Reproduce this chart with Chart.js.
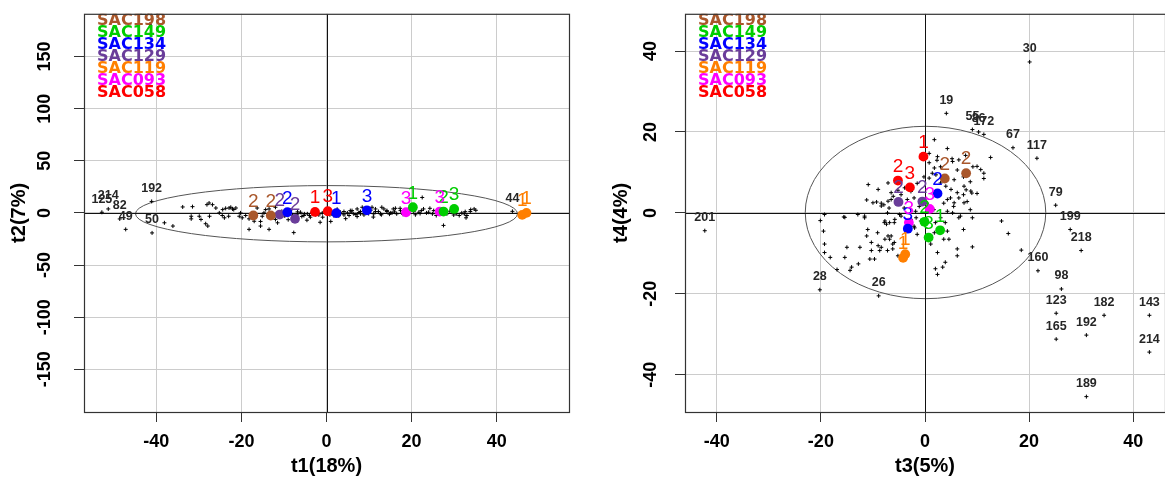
<!DOCTYPE html>
<html>
<head>
<meta charset="utf-8">
<script src="https://cdn.jsdelivr.net/npm/chart.js@4.4.0/dist/chart.umd.min.js"></script>
<style>
  html, body { margin: 0; padding: 0; background: #fff; overflow: hidden; width: 1165px; height: 482px; }
  #graficaT12 { position: absolute; left: 0; top: 0; }
  #graficaT34 { position: absolute; left: 580px; top: 0; }
</style>
</head>
<body>
<canvas id="graficaT12" width="580" height="482"></canvas>
<canvas id="graficaT34" width="590" height="482"></canvas>
<script>
// ---- datos ----
const grupos = ['SAC198', 'SAC149', 'SAC134', 'SAC129', 'SAC119', 'SAC093', 'SAC058'];

// observaciones (cruces negras), scores t1 / t2
const obsT1 = [-38.1, -36.1, -33.8, -31.8, -31.8, -31.5, -29.9, -29.5, -28.4, -28.1, -27.6, -26.8, -27.9, -27.5, -26.0, -25.2,
  -24.4, -24.0, -24.5, -23.7, -22.9, -22.1, -21.3, -23.0, -22.5, -21.8, -20.5, -20.2, -19.8, -19.0, -18.2, -18.2,
  -16.3, -15.5, -15.5, -15.1, -14.7, -14.3, -13.5, -13.5, -12.0, -12.0, -10.5, -9.8, -8.5, -7.7, -6.9, -6.1,
  -5.3, -5.2, -4.5, -4.0, -3.8, -3.4, -2.1, -1.8, -1.0, -0.9, 1.3, 1.7, 3.3, 3.3, 4.1, 4.1, 4.9, 5.3, 5.6, 6.0,
  6.4, 7.2, 7.2, 8.0, 8.0, 8.4, 8.8, 10.7, 11.1, 11.5, 11.5, 12.2, 12.7, 13.0, 13.5, 14.2, 14.2, 15.0, 15.4, 15.7,
  16.2, 16.5, 17.3, 17.4, 20.5, 22.5, 21.7, 22.3, 22.8, 23.5, 24.0, 24.3, 25.2, 25.8, 27.5, 28.1, 28.3, 30.5,
  31.2, 31.8, 32.4, 33.0, 33.8, 33.9, 34.7, -10.2, -8.0, -6.8, -5.8, -2.6, 0.8, 2.6, 2.9, 5.8, 6.9, 7.6, 9.2, 9.9,
  10.4, 12.9, 14.8, 16.0, 18.0, 19.2, 20.9, 22.0, 24.9, 26.3, 29.0, 29.9, 32.6, -17.0, -11.5, -9.0, -4.6, -1.5,
  1.0, 2.5, 4.5, 11.0, 35.1, 32.8];
const obsT2 = [-9.5, -12.6, 5.7, -3.2, -5.7, 6.0, -3.2, -6.3, -10.4, 7.9, 9.5, 7.9, -12.6, -3.2, 4.7, 0,
  3.2, -4.7, -2.5, 4.4, 4.7, 3.8, 4.7, -3.2, 5.4, 3.2, -3.2, 0, -4.7, -2.5, -15.8, -5.7,
  4.7, -12.6, -8.2, -3.2, 0, 3.2, -15.8, 3.8, -6.3, 5.4, 1.5, -3.0, 2.5, -18.9, -1.9, 0.6,
  -2.5, -0.9, -0.9, -2.5, -4.1, 0.6, 0, -1.9, 0, -4.1, -0.9, -2.5, 0.6, -0.9, -1.9, 1.3, 0, -2.5, 2.2, 2.2,
  -0.9, 3.8, -3.5, 1.3, -0.9, 5.4, -1.9, 5.4, -0.9, 1.3, 3.8, 1.3, -0.9, 5.4, 3.8, 2.2, 1.3, 0, 0, 3.8,
  4.4, -0.9, 4.4, 2.2, 1.3, 14.8, 0.6, 2.2, 3.8, 0, 0.6, 4.4, 2.2, -2.5, -12.0, 0.6, -0.9, -0.9,
  -2.5, 0, -0.9, -2.5, 1.3, 3.2, 3.8, -1.2, -2.2, 1.0, -3.4, -1.6, -1.8, 1.9, -2.8, 0.9, -1.6, 0.4, 0.6, -0.6,
  2.6, -1.8, -1.2, 1.0, -1.4, 2.4, -1.8, -0.6, -0.9, 2.8, 1.6, -2.0, 1.2, -8.0, -9.5, -6.5, -7.0, -9.0,
  -8.2, 3.5, -5.5, -4.0, 2.5, -4.7];

// observaciones etiquetadas en t1 / t2
const idsT12 = ['201', '192', '214', '125', '82', '49', '50', '44'];
const idT1 = [-41.5, -41.1, -51.3, -52.8, -48.6, -47.2, -41.0, 43.7];
const idT2 = [181, 11.0, 3.8, 0.6, -5.8, -15.8, -19.2, 1.5];

// replicas de cada muestra (circulos de color), en el orden de "grupos"
const repT1 = [[-17.2, -13.1], [20.3, 27.5, 30.0], [-9.2, 2.3, 9.5], [-11.0, -7.4], [46.0, 47.0], [18.7, 26.6], [-2.7, 0.3]];
const repT2 = [[-2.5, -2.5], [5.4, 1.3, 3.8], [0.6, -0.3, 2.5], [-1.6, -5.7], [-1.9, 0.0], [0.6, 1.3], [0.9, 1.6]];
const repEtq12 = [['2', '2'], ['1', '2', '3'], ['2', '1', '3'], ['2', '2'], ['1', '1'], ['3', '3'], ['1', '3']];

// observaciones (cruces negras), scores t3 / t4
const obsT3 = [0.8, 1.8, 2.4, 4.3, 5.3, 6.5, 12.6, 10.0, 10.7, 11.3, 7.5, 5.6, 1.8, 0.8, 2.1, -10.9, -9.0, -7.1, -6.5,
  -5.2, -3.9, -11.2, -10.0, -8.4, -7.1, 5.0, 6.2, 7.5, 8.8, 10.0, 4.3, 5.6, 6.5, 7.5, 3.0, 4.0,
  7.8, 9.2, 11.3, 7.4, 8.1, 5.3, 14.7, 16.0, -9.3, -7.9, -6.1, -5.4, -19.3, -15.6, -12.9, 9.1, 18.5,
  -20.1, -19.5, -19.3, -19.3, -18.2, -16.9, -15.4, -15.4, -15.0, -14.4, -14.1, -12.8, -12.5, -11.6, -11.2,
  -10.6, -10.3, -9.7, -9.0, -8.7, -7.7, -7.4, -6.8, -7.7, -6.8, -7.1, -6.2, -6.2, -5.2, -5.8, -4.9, -2.0,
  -1.7, -0.8, 1.8, 4.3, 4.6, 2.4, 6.5, 9.1, 2.4, 3.4, 6.2,
  0.8, 2.3, 3.0, 5.2, 6.2, 7.4, 8.7, 7.9, 4.9, 3.6, 5.5, 4.3, 3.0, 2.0, 3.9, 3.6, 1.1, -1.5, -2.1, -2.7,
  -4.6, -5.9, -7.2, -7.8, -9.1, -6.5, -5.9, -7.2, -8.4, -10.3, -11.0, -11.6, -2.1, -2.7, -1.5, -0.2, 1.4,
  0.4, -1.1, 1.7, -1.8, -4.0, -3.4, -4.6, -6.5, -8.4, -6.9, 9.0, 8.7, 6.8, 7.4, 6.2, 3.9, 2.0];
const obsT4 = [14.7, 18.1, 13.9, 15.9, 12.7, 13.1, 13.7, 11.5, 10.7, 9.8, 10.2, 8.2, 11.1, 8.6, 9.4, 7.0, 5.8, 7.4, 5.0,
  5.6, 6.2, 3.2, 2.5, 1.7, 2.9, 5.8, 5.0, 6.6, 5.4, 4.8, 3.3, 2.5, 3.7, 2.5, 7.4, 6.6,
  14.2, 11.4, 8.5, 4.5, 2.8, 0, -2.0, -5.1, 2.7, 2.0, 4.1, 2.4, -0.4, -1.0, -0.4, -8.4, -9.2,
  -1.9, -4.5, -7.7, -9.8, -11.0, -14.0, -1.1, -11.0, -8.5, -14.2, -13.4, -12.6, -8.5, -1.2, -5.7,
  -11.4, -9.3, -11.4, -8.1, -9.3, -2.0, -2.8, -2.4, -6.5, -6.5, -5.7, -7.7, -8.9, -10.6, -1.6, -0.4, -3.7,
  -1.2, -2.0, -4.9, -4.5, -6.5, -9.8, -1.2, -1.2, -15.2, -13.4, -10.6,
  12.4, 13.0, 11.4, 13.4, 10.6, 8.9, 7.7, 5.7, 3.7, 2.4, 1.6, 0.4, -1.2, -2.4, -2.4, -6.5, -7.7, -5.3, -3.3, -1.6,
  -0.8, -2.4, 0, -2.4, -4.9, -5.7, -7.3, -9.3, -8.5, -7.3, -4.1, -0.8, 3.7, 5.3, 7.3, 8.9, 9.8,
  2.4, 1.6, 0.8, 0.4, 1.2, 3.3, 4.5, 3.3, 2.4, 1.2, 4.9, 0.8, -0.8, -4.1, -8.9, -12.2, -13.8];

// observaciones etiquetadas en t3 / t4
const idsT34 = ['30', '19', '55', '86', '172', '67', '117', '79', '199', '218', '160', '98', '123', '165', '192', '182',
  '143', '214', '189', '201', '28', '26'];
const idT3 = [20.1, 4.1, 9.1, 10.3, 11.3, 16.9, 21.5, 25.1, 27.9, 30.0, 21.7, 26.2, 25.2, 25.2, 31.0, 34.4,
  43.1, 43.1, 31.0, -42.3, -20.2, -8.9];
const idT4 = [37.3, 24.6, 20.6, 20.0, 19.4, 16.1, 13.5, 1.9, -4.1, -9.3, -14.3, -18.8, -24.8, -31.2, -30.2, -25.3,
  -25.3, -34.4, -45.4, -4.4, -19.0, -20.5];

const repT3 = [[3.8, 7.9], [-0.1, 2.9, 0.7], [2.4, -3.3], [-5.1, -0.5], [-3.8, -4.2], [0.9, -3.1], [-0.3, -5.2, -2.9]];
const repT4 = [[8.5, 9.8], [-2.2, -4.3, -6.1], [4.8, -3.9], [2.7, 2.8], [-10.2, -11.1], [1.0, -2.4], [13.9, 8.0, 6.3]];
const repEtq34 = [['2', '2'], ['2', '1', '3'], ['2', '3'], ['2', '2'], ['1', '1'], ['3', '3'], ['1', '2', '3']];

// ---- estilo ----
const coloresGrupo = ['#A9572B', '#00CD00', '#0000FF', '#6A3D9A', '#FF7F00', '#FF00FF', '#FF0000'];
const FUENTE = 'Liberation Sans, Arial, sans-serif';
Chart.defaults.font.family = FUENTE;

const pluginDecoracion = {
  id: 'decoracion',
  beforeDatasetsDraw(chart, args, opts) {
    const { ctx, chartArea: a, scales: { x, y } } = chart;
    ctx.save();
    ctx.beginPath();
    ctx.rect(a.left, a.top, a.right - a.left, a.bottom - a.top);
    ctx.clip();

    // elipse de Hotelling
    const [ex, ey, rx, ry] = opts.elipse;
    const cx = x.getPixelForValue(ex), cy = y.getPixelForValue(ey);
    const px = Math.abs(x.getPixelForValue(ex + rx) - cx);
    const py = Math.abs(y.getPixelForValue(ey + ry) - cy);
    ctx.strokeStyle = '#555';
    ctx.lineWidth = 1;
    ctx.beginPath();
    ctx.ellipse(cx, cy, px, py, 0, 0, Math.PI * 2);
    ctx.stroke();

    // ejes en cero
    const x0 = Math.round(x.getPixelForValue(0)) + 0.5;
    const y0 = Math.round(y.getPixelForValue(0)) + 0.5;
    ctx.strokeStyle = '#111';
    ctx.beginPath();
    ctx.moveTo(x0, a.top); ctx.lineTo(x0, a.bottom);
    ctx.moveTo(a.left, y0); ctx.lineTo(a.right, y0);
    ctx.stroke();
    ctx.restore();
  },
  afterDatasetsDraw(chart, args, opts) {
    const { ctx, chartArea: a } = chart;
    ctx.save();
    ctx.beginPath();
    ctx.rect(a.left, a.top, a.right - a.left, a.bottom - a.top);
    ctx.clip();
    ctx.textAlign = 'center';
    ctx.textBaseline = 'middle';

    chart.data.datasets.forEach((ds, i) => {
      if (!ds.etiquetas) return;
      const meta = chart.getDatasetMeta(i);
      ctx.font = ds.fuenteEtiqueta;
      ctx.fillStyle = ds.colorEtiqueta;
      meta.data.forEach((pt, j) => {
        ctx.fillText(ds.etiquetas[j], pt.x, pt.y - ds.desfase);
      });
    });

    // leyenda de texto
    ctx.textAlign = 'left';
    ctx.font = 'bold 16px "DejaVu Sans", sans-serif';
    grupos.forEach((g, i) => {
      ctx.fillStyle = coloresGrupo[i];
      ctx.fillText(g, opts.leyendaX, 20.5 + i * 12);
    });
    ctx.restore();
  },
  afterDraw(chart, args, opts) {
    const { ctx, chartArea: a, scales: { y } } = chart;
    ctx.save();
    ctx.strokeStyle = '#333';
    ctx.lineWidth = 1.2;
    ctx.strokeRect(a.left + 0.5, a.top + 0.5, a.right - a.left, a.bottom - a.top);

    // etiquetas del eje y giradas, como en R
    ctx.fillStyle = '#000';
    ctx.font = 'bold 18px ' + FUENTE;
    ctx.textAlign = 'center';
    ctx.textBaseline = 'middle';
    y.ticks.forEach(t => {
      const py = y.getPixelForValue(t.value);
      ctx.save();
      ctx.translate(opts.ejeYX, py);
      ctx.rotate(-Math.PI / 2);
      ctx.fillText(String(t.value), 0, 0);
      ctx.restore();
    });
    ctx.restore();
  }
};

function armarDatasets(obsX, obsY, ids, idX, idY, repX, repY, repEtq) {
  const sets = [];
  sets.push({
    data: obsX.map((v, i) => ({ x: v, y: obsY[i] })),
    pointStyle: 'cross', pointRadius: 2, borderColor: '#000', borderWidth: 1, order: 10
  });
  sets.push({
    data: idX.map((v, i) => ({ x: v, y: idY[i] })),
    pointStyle: 'cross', pointRadius: 2, borderColor: '#000', borderWidth: 1, order: 9,
    etiquetas: ids, colorEtiqueta: '#262626', fuenteEtiqueta: 'bold 12.5px ' + FUENTE, desfase: 13
  });
  grupos.forEach((g, k) => {
    sets.push({
      label: g,
      data: repX[k].map((v, i) => ({ x: v, y: repY[k][i] })),
      pointStyle: 'circle', pointRadius: 4.9, backgroundColor: coloresGrupo[k], borderWidth: 0, order: 1,
      etiquetas: repEtq[k], colorEtiqueta: coloresGrupo[k], fuenteEtiqueta: '19px ' + FUENTE, desfase: 14
    });
  });
  return sets;
}

function crearGrafica(id, cfg) {
  const ctx = document.getElementById(id).getContext('2d');
  return new Chart(ctx, {
    type: 'scatter',
    data: { datasets: cfg.datasets },
    plugins: [pluginDecoracion],
    options: {
      responsive: false,
      animation: false,
      layout: { padding: { top: 8, right: cfg.padDer, left: 0, bottom: 0 } },
      plugins: {
        legend: { display: false },
        tooltip: { enabled: false },
        decoracion: { elipse: cfg.elipse, leyendaX: cfg.leyendaX, ejeYX: cfg.ejeYX }
      },
      scales: {
        x: {
          type: 'linear', min: cfg.xMin, max: cfg.xMax,
          ticks: { stepSize: 20, includeBounds: false, color: '#000', padding: 9, font: { size: 18, weight: 'bold' } },
          grid: { color: '#cccccc', tickColor: '#333', tickLength: 10 },
          border: { display: false },
          title: { display: true, text: cfg.tituloX, color: '#000', font: { size: 20, weight: 'bold' }, padding: { top: 0, bottom: 4 } },
          afterFit: s => { s.height = 70; }
        },
        y: {
          type: 'linear', min: cfg.yMin, max: cfg.yMax,
          ticks: { stepSize: cfg.pasoY, includeBounds: false, color: 'rgba(0,0,0,0)', font: { size: 18, weight: 'bold' } },
          grid: { color: '#cccccc', tickColor: '#333', tickLength: 10 },
          border: { display: false },
          title: { display: true, text: cfg.tituloY, color: '#000', font: { size: 20, weight: 'bold' }, padding: { top: cfg.padTituloY, bottom: 0 } },
          afterFit: s => { s.width = cfg.anchoY; }
        }
      }
    }
  });
}

crearGrafica('graficaT12', {
  datasets: armarDatasets(obsT1, obsT2, idsT12, idT1, idT2, repT1, repT2, repEtq12),
  xMin: -57, xMax: 57, yMin: -191, yMax: 191, pasoY: 50,
  tituloX: 't1(18%)', tituloY: 't2(7%)',
  elipse: [0, -0.8, 44.9, 27], leyendaX: 97, ejeYX: 45,
  anchoY: 84, padDer: 11, padTituloY: 7
});

crearGrafica('graficaT34', {
  datasets: armarDatasets(obsT3, obsT4, idsT34, idT3, idT4, repT3, repT4, repEtq34),
  xMin: -46.1, xMax: 46.1, yMin: -49.2, yMax: 49.2, pasoY: 20,
  tituloX: 't3(5%)', tituloY: 't4(4%)',
  elipse: [0.1, 0.1, 23.1, 21.3], leyendaX: 118, ejeYX: 71,
  anchoY: 105, padDer: 2, padTituloY: 29
});
</script>
</body>
</html>
